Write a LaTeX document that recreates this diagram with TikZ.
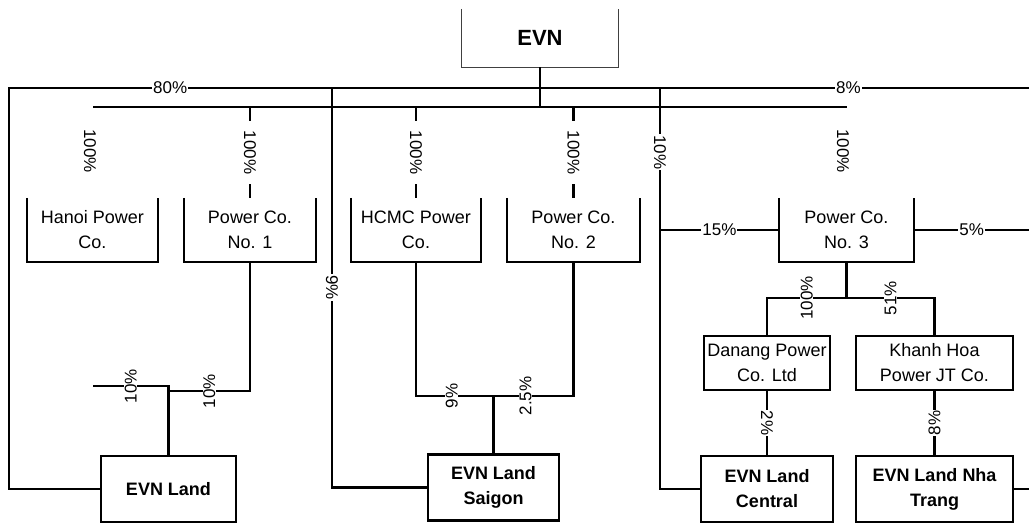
\documentclass[tikz,border=0pt]{standalone}
\usepackage{fontspec}
\setmainfont{Liberation Sans}
\begin{document}
\begin{tikzpicture}[x=1pt,y=-1pt,line join=miter,
	link/.style={line width=2.5pt,color=black},
	co/.style={align=center,inner sep=0pt,minimum height=64pt,font=\fontsize{18}{25}\selectfont},
	sub/.style={draw,line width=2.5pt,align=center,inner sep=0pt,minimum height=54pt,font=\fontsize{18}{25}\selectfont},
	land/.style={draw,line width=2.5pt,align=center,inner sep=0pt,minimum height=66pt,font=\bfseries\fontsize{18}{25}\selectfont},
	pct/.style={fill=white,inner xsep=1pt,inner ysep=0.5pt,font=\fontsize{17}{17}\selectfont}]
			\useasboundingbox (0,0) rectangle (1029,523);
			% companies
			\node[minimum width=156pt,minimum height=58pt,inner sep=0pt,font=\bfseries\fontsize{22}{26}\selectfont] (evn) at (540,38) {EVN};
			\node[co,minimum width=131pt] (hanoi) at (92.5,230) {Hanoi Power\\Co.};
			\node[co,minimum width=132pt] (pcone) at (250,230) {Power Co.\\No. 1};
			\node[co,minimum width=130pt] (hcmc) at (416,230) {HCMC Power\\Co.};
			\node[co,minimum width=133pt] (pctwo) at (573.5,230) {Power Co.\\No. 2};
			\node[co,minimum width=135pt] (pcthree) at (846.5,230) {Power Co.\\No. 3};
			\node[sub,minimum width=126pt] (danang) at (767,363) {Danang Power\\Co. Ltd};
			\node[sub,minimum width=157pt] (khanhhoa) at (934.5,363) {Khanh Hoa\\Power JT Co.};
			\node[land,minimum width=135pt] (evnland) at (168.5,489) {EVN Land};
			\node[land,minimum width=131pt] (saigon) at (493.5,487.5) {EVN Land\\Saigon};
			\node[land,minimum width=132pt] (central) at (767,489) {EVN Land\\Central};
			\node[land,minimum width=157pt] (nhatrang) at (934.5,489) {EVN Land Nha\\Trang};
			% open top boxes
			\draw[color=black!75,line width=1.2pt] (evn.north west) -- (evn.south west) -- (evn.south east) -- (evn.north east);
			\foreach \n in {hanoi,pcone,hcmc,pctwo,pcthree}
			\draw[link] (\n.north west) -- (\n.south west) -- (\n.south east) -- (\n.north east);
			% buses
			\coordinate (topl) at (9,88);
			\coordinate (topr) at (1029,88);
			\coordinate (busl) at (93,107);
			\coordinate (busr) at (847,107);
			\draw[link] (evnland.west) -| (topl) -- node[pct,pos=0.158] {80\%} node[pct,pos=0.823] {8\%} (topr);
			\draw[link] (busl) -- (busr);
			\draw[link] (evn.south) -- (evn.south |- busl);
			\draw[link] (332,88) |- node[pct,rotate=-90,pos=0.25] {9\%} (saigon.west);
			\draw[link] (660,88) |- node[pct,rotate=-90,pos=0.08] {10\%} (central.west);
			% subsidiaries
			\node[pct,rotate=-90] (lhanoi) at (90,151) {100\%};
			\node[pct,rotate=-90] (lpcthree) at (843,151) {100\%};
			\foreach \n in {pcone,hcmc,pctwo}
			\draw[link] (\n.north |- busl) -- node[pct,rotate=-90,inner xsep=10pt] {100\%} (\n.north);
			\draw[link] (pcthree.west -| 660,0) -- node[pct] {15\%} (pcthree.west);
			\draw[link] (pcthree.east) -- node[pct] {5\%} (pcthree.east -| topr);
			\coordinate (jthree) at (pcthree.south |- 0,298);
			\draw[link] (pcthree.south) -- (jthree);
			\draw[link] (jthree) -| node[pct,rotate=90,pos=0.25] {100\%} (danang.north);
			\draw[link] (jthree) -| node[pct,rotate=90,pos=0.25] {51\%} (khanhhoa.north);
			% land companies
			\draw[link] (93,386) -- node[pct,rotate=90] {10\%} (evnland.north |- 0,386) -- (evnland.north);
			\draw[link] (pcone.south) |- node[pct,rotate=90,pos=0.75] {10\%} (evnland.north |- 0,391);
			\draw[link] (hcmc.south) |- node[pct,rotate=90,pos=0.73] {9\%} (saigon.north |- 0,396) -- (saigon.north);
			\draw[link] (pctwo.south) |- node[pct,rotate=90,pos=0.8] {2.5\%} (saigon.north |- 0,396);
			\draw[link] (danang.south) -- node[pct,rotate=-90] {2\%} (central.north);
			\draw[link] (khanhhoa.south) -- node[pct,rotate=90] {8\%} (nhatrang.north);
			\draw[link] (nhatrang.east) -- (nhatrang.east -| topr);
\end{tikzpicture}
\end{document}
